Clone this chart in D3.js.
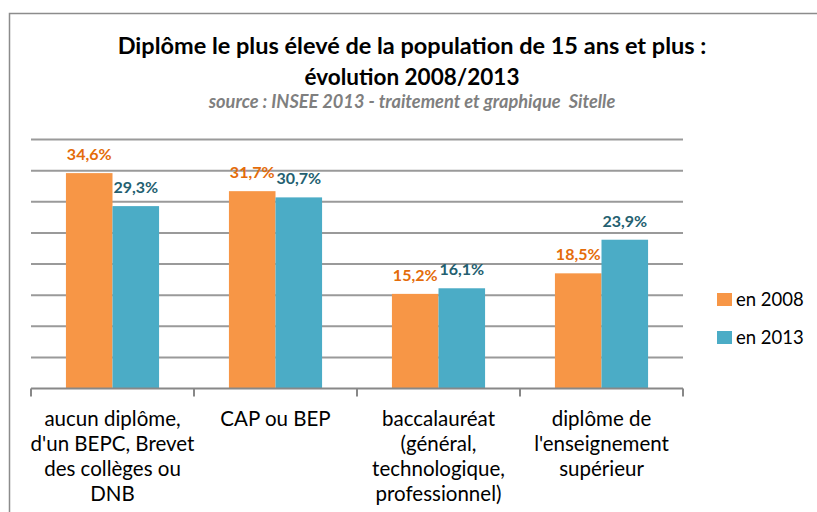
<!DOCTYPE html>
<html>
<head>
<meta charset="utf-8">
<script src="https://cdn.jsdelivr.net/npm/d3@7"></script>
<style>
  body { margin: 0; background: #fff; }
  svg { display: block; font-family: Lato, "Open Sans", sans-serif; }
</style>
</head>
<body>
<svg id="chart" width="817" height="512"></svg>
<script>
// data
const categories = [
  "aucun diplôme, d'un BEPC, Brevet des collèges ou DNB",
  "CAP ou BEP",
  "baccalauréat (général, technologique, professionnel)",
  "diplôme de l'enseignement supérieur"
];
const categoryLines = [
  ["aucun diplôme,", "d'un BEPC, Brevet", "des collèges ou", "DNB"],
  ["CAP ou BEP"],
  ["baccalauréat", "(général,", "technologique,", "professionnel)"],
  ["diplôme de", "l'enseignement", "supérieur"]
];
const seriesNames = ["en 2008", "en 2013"];
const values2008 = [34.6, 31.7, 15.2, 18.5];
const values2013 = [29.3, 30.7, 16.1, 23.9];
const yTicks = [0, 5, 10, 15, 20, 25, 30, 35, 40];

const barColors = ["#F79646", "#4BACC6"];
const labelColors = ["#E46C0A", "#245F70"];

const svg = d3.select("#chart");

// outer frame (runs off the right/bottom edge)
svg.append("rect")
  .attr("x", 9.5).attr("y", 13.5)
  .attr("width", 900).attr("height", 600)
  .attr("fill", "none")
  .attr("stroke", "#8c8c8c")
  .attr("stroke-width", 1.5);

// titles
const cx = 412;
svg.append("text")
  .attr("x", cx).attr("y", 54)
  .attr("text-anchor", "middle")
  .style("font-size", "23.5px").style("font-weight", "bold")
  .text("Diplôme le plus élevé de la population de 15 ans et plus :");
svg.append("text")
  .attr("x", cx).attr("y", 85)
  .attr("text-anchor", "middle")
  .style("font-size", "22.5px").style("font-weight", "bold")
  .text("évolution 2008/2013");
svg.append("text")
  .attr("x", cx).attr("y", 108)
  .attr("text-anchor", "middle")
  .style("font-size", "18.2px").style("font-weight", "bold").style("font-style", "italic")
  .style("white-space", "pre")
  .attr("fill", "#7f7f7f")
  .text("source : INSEE 2013 - traitement et graphique  Sitelle");

// scales
const x0 = d3.scaleBand()
  .domain(categories)
  .range([31, 683])
  .padding(0);

const x1 = d3.scaleBand()
  .domain(seriesNames)
  .range([0, x0.bandwidth()])
  .paddingInner(0)
  .paddingOuter(0.75);

const y = d3.scaleLinear()
  .domain([0, 40])
  .range([388.5, 139.5]);

// horizontal gridlines
svg.append("g")
  .selectAll("line")
  .data(yTicks.slice(1))
  .enter()
  .append("line")
  .attr("x1", 31).attr("x2", 683)
  .attr("y1", d => y(d)).attr("y2", d => y(d))
  .attr("stroke", "#9a9a9a")
  .attr("stroke-width", 2);

// bars
const rows = categories.map((c, i) => ({
  cat: c,
  vals: [values2008[i], values2013[i]]
}));

const groups = svg.append("g")
  .selectAll("g")
  .data(rows)
  .enter()
  .append("g")
  .attr("transform", d => "translate(" + x0(d.cat) + ",0)");

groups.selectAll("rect")
  .data(d => d.vals.map((v, j) => ({ s: seriesNames[j], v: v, j: j })))
  .enter()
  .append("rect")
  .attr("x", d => x1(d.s))
  .attr("y", d => y(d.v))
  .attr("width", x1.bandwidth())
  .attr("height", d => y(0) - y(d.v))
  .attr("fill", d => barColors[d.j]);

// value labels
groups.selectAll("text")
  .data(d => d.vals.map((v, j) => ({ s: seriesNames[j], v: v, j: j })))
  .enter()
  .append("text")
  .attr("x", d => x1(d.s) + x1.bandwidth() / 2)
  .attr("y", d => y(d.v) - 13)
  .attr("text-anchor", "middle")
  .style("font-size", "16px").style("font-weight", "bold")
  .attr("fill", d => labelColors[d.j])
  .text(d => d3.format(".1f")(d.v).replace(".", ",") + "%");

// x axis
const xAxis = svg.append("g")
  .attr("transform", "translate(0," + y(0) + ")")
  .call(d3.axisBottom(x0).tickSize(0).tickFormat(""));
xAxis.select(".domain").remove();
xAxis.append("line")
  .attr("x1", 31).attr("x2", 683)
  .attr("stroke", "#888").attr("stroke-width", 2);
xAxis.selectAll(".sep")
  .data(d3.range(categories.length + 1))
  .enter()
  .append("line")
  .attr("class", "sep")
  .attr("x1", i => 31 + i * x0.step()).attr("x2", i => 31 + i * x0.step())
  .attr("y1", 0).attr("y2", 8)
  .attr("stroke", "#888").attr("stroke-width", 2);

// category labels
const catText = svg.append("g")
  .selectAll("text")
  .data(categories)
  .enter()
  .append("text")
  .attr("text-anchor", "middle")
  .style("font-size", "20.5px")
  .attr("fill", "#000");
catText.each(function (c, i) {
  d3.select(this).selectAll("tspan")
    .data(categoryLines[i])
    .enter()
    .append("tspan")
    .attr("x", x0(c) + x0.bandwidth() / 2)
    .attr("y", (d, k) => 425.5 + k * 25)
    .text(d => d);
});

// legend
const legend = svg.append("g")
  .selectAll("g")
  .data(seriesNames)
  .enter()
  .append("g")
  .attr("transform", (d, i) => "translate(717," + (293 + i * 38) + ")");
legend.append("rect")
  .attr("width", 15).attr("height", 13)
  .attr("fill", (d, i) => barColors[i]);
legend.append("text")
  .attr("x", 19).attr("y", 13)
  .style("font-size", "18.5px")
  .text(d => d);
</script>
</body>
</html>
